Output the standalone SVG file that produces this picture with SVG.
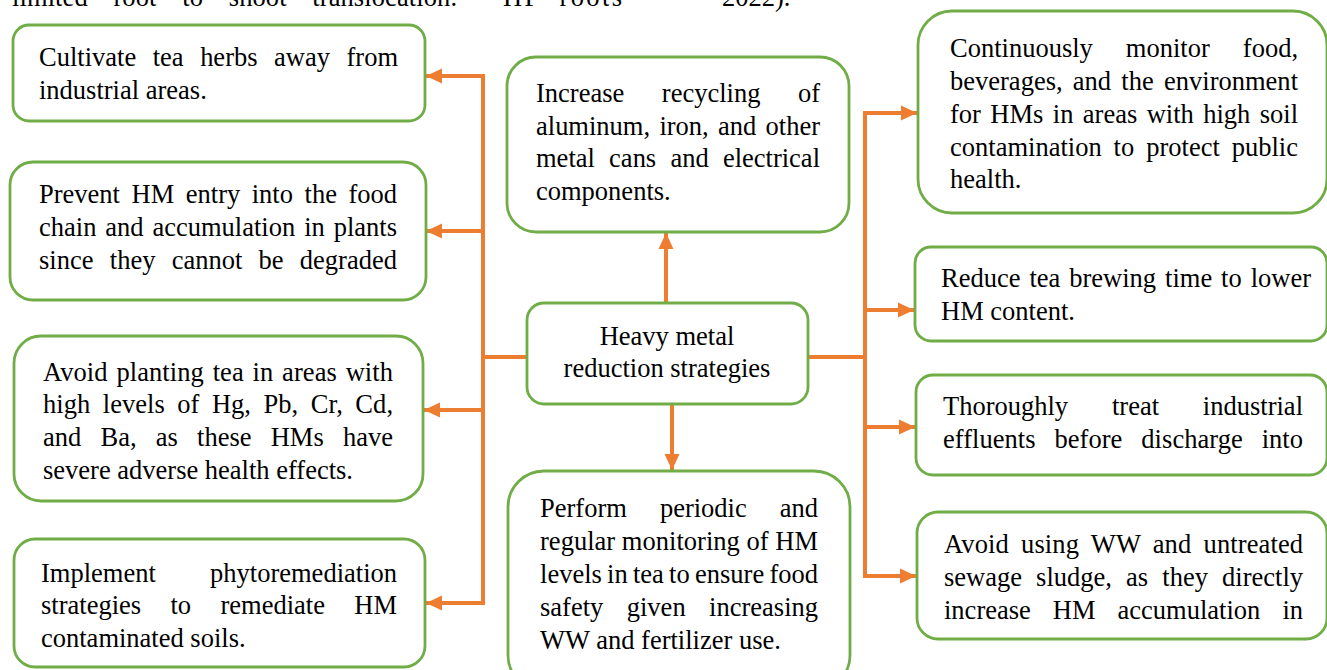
<svg xmlns="http://www.w3.org/2000/svg" width="1327" height="670" viewBox="0 0 1327 670">
<style>
text{font-family:"Liberation Serif","Times New Roman",serif;font-size:26.5px;fill:#000}
.box{fill:#fff;stroke:#70AD47;stroke-width:2.8}
.c{text-anchor:middle}
.ln{fill:none;stroke:#ED7D31;stroke-width:4}
</style>
<defs>
<marker id="ah" markerUnits="userSpaceOnUse" markerWidth="17" markerHeight="16" refX="16" refY="8" orient="auto">
<path d="M0,0.5 L16,8 L0,15.5 z" fill="#ED7D31"/>
</marker>
</defs>
<rect width="1327" height="670" fill="#fff"/>
<g id="caption">
<text x="12" y="5.5" textLength="445" lengthAdjust="spacing" word-spacing="19">limited root to shoot translocation.</text>
<text x="503" y="5.5" textLength="119" lengthAdjust="spacing" word-spacing="10">HP roots</text>
<text x="722" y="5.5">2022).</text>
</g>
<g id="connectors">
<path class="ln" d="M527,357 H483"/>
<path class="ln" d="M483,74 V605"/>
<path class="ln" d="M483,76 H426" marker-end="url(#ah)"/>
<path class="ln" d="M483,231 H426" marker-end="url(#ah)"/>
<path class="ln" d="M483,410 H424" marker-end="url(#ah)"/>
<path class="ln" d="M483,603 H426" marker-end="url(#ah)"/>
<path class="ln" d="M666,303 V233" marker-end="url(#ah)"/>
<path class="ln" d="M672,404 V470" marker-end="url(#ah)"/>
<path class="ln" d="M808,357 H865"/>
<path class="ln" d="M865,111 V578"/>
<path class="ln" d="M865,113 H917" marker-end="url(#ah)"/>
<path class="ln" d="M865,310 H914" marker-end="url(#ah)"/>
<path class="ln" d="M865,427 H915" marker-end="url(#ah)"/>
<path class="ln" d="M865,576 H916" marker-end="url(#ah)"/>
</g>
<g id="n-cultivate">
<rect class="box" x="13" y="25" width="412" height="96" rx="16"/>
<text x="39" y="66" textLength="359" lengthAdjust="spacing" word-spacing="9.9">Cultivate tea herbs away from</text>
<text x="39" y="99">industrial areas.</text>
</g>
<g id="n-prevent">
<rect class="box" x="10" y="162" width="416" height="138" rx="23"/>
<text x="39" y="203" textLength="358" lengthAdjust="spacing" word-spacing="4.9">Prevent HM entry into the food</text>
<text x="39" y="236" textLength="358" lengthAdjust="spacing" word-spacing="2.3">chain and accumulation in plants</text>
<text x="39" y="269" textLength="358" lengthAdjust="spacing" word-spacing="9.6">since they cannot be degraded</text>
</g>
<g id="n-avoid-planting">
<rect class="box" x="14" y="336" width="409" height="165" rx="27"/>
<text x="43" y="381" textLength="350" lengthAdjust="spacing" word-spacing="2.1">Avoid planting tea in areas with</text>
<text x="43" y="413" textLength="350" lengthAdjust="spacing" word-spacing="5.8">high levels of Hg, Pb, Cr, Cd,</text>
<text x="43" y="446" textLength="350" lengthAdjust="spacing" word-spacing="12.6">and Ba, as these HMs have</text>
<text x="43" y="479">severe adverse health effects.</text>
</g>
<g id="n-implement">
<rect class="box" x="14" y="539" width="411" height="128" rx="21"/>
<text x="41" y="582" textLength="356" lengthAdjust="spacing" word-spacing="47.6">Implement phytoremediation</text>
<text x="41" y="614" textLength="356" lengthAdjust="spacing" word-spacing="22.7">strategies to remediate HM</text>
<text x="41" y="647">contaminated soils.</text>
</g>
<g id="n-increase">
<rect class="box" x="507" y="57" width="342" height="175" rx="29"/>
<text x="536" y="102" textLength="284" lengthAdjust="spacing" word-spacing="30.9">Increase recycling of</text>
<text x="536" y="135" textLength="284" lengthAdjust="spacing" word-spacing="2.7">aluminum, iron, and other</text>
<text x="536" y="167" textLength="284" lengthAdjust="spacing" word-spacing="7.6">metal cans and electrical</text>
<text x="536" y="200">components.</text>
</g>
<g id="n-center">
<rect class="box" x="527" y="303" width="281" height="101" rx="17"/>
<text class="c" x="667" y="345">Heavy metal</text>
<text class="c" x="667" y="377">reduction strategies</text>
</g>
<g id="n-perform">
<rect class="box" x="508" y="471" width="342" height="220" rx="36"/>
<text x="540" y="517" textLength="278" lengthAdjust="spacing" word-spacing="26.4">Perform periodic and</text>
<text x="540" y="550" textLength="278" lengthAdjust="spacing">regular monitoring of HM</text>
<text x="540" y="583" textLength="278" lengthAdjust="spacing" word-spacing="-1.4">levels in tea to ensure food</text>
<text x="540" y="616" textLength="278" lengthAdjust="spacing" word-spacing="16.8">safety given increasing</text>
<text x="540" y="649">WW and fertilizer use.</text>
</g>
<g id="n-continuously">
<rect class="box" x="918" y="11" width="409" height="202" rx="34"/>
<text x="950" y="57" textLength="348" lengthAdjust="spacing" word-spacing="26.4">Continuously monitor food,</text>
<text x="950" y="90" textLength="348" lengthAdjust="spacing" word-spacing="3.6">beverages, and the environment</text>
<text x="950" y="123" textLength="348" lengthAdjust="spacing" word-spacing="2.8">for HMs in areas with high soil</text>
<text x="950" y="156" textLength="348" lengthAdjust="spacing" word-spacing="5.3">contamination to protect public</text>
<text x="950" y="188">health.</text>
</g>
<g id="n-reduce">
<rect class="box" x="915" y="247" width="412" height="94" rx="16"/>
<text x="941" y="287" textLength="370" lengthAdjust="spacing" word-spacing="2.3">Reduce tea brewing time to lower</text>
<text x="941" y="320">HM content.</text>
</g>
<g id="n-thoroughly">
<rect class="box" x="916" y="375" width="411" height="100" rx="17"/>
<text x="943" y="415" textLength="360" lengthAdjust="spacing" word-spacing="37.2">Thoroughly treat industrial</text>
<text x="943" y="448" textLength="360" lengthAdjust="spacing" word-spacing="12.3">effluents before discharge into</text>
</g>
<g id="n-avoid-ww">
<rect class="box" x="917" y="512" width="410" height="127" rx="21"/>
<text x="944" y="553" textLength="359" lengthAdjust="spacing" word-spacing="5.5">Avoid using WW and untreated</text>
<text x="944" y="586" textLength="359" lengthAdjust="spacing" word-spacing="7.5">sewage sludge, as they directly</text>
<text x="944" y="619" textLength="359" lengthAdjust="spacing" word-spacing="15.4">increase HM accumulation in</text>
</g>
</svg>
